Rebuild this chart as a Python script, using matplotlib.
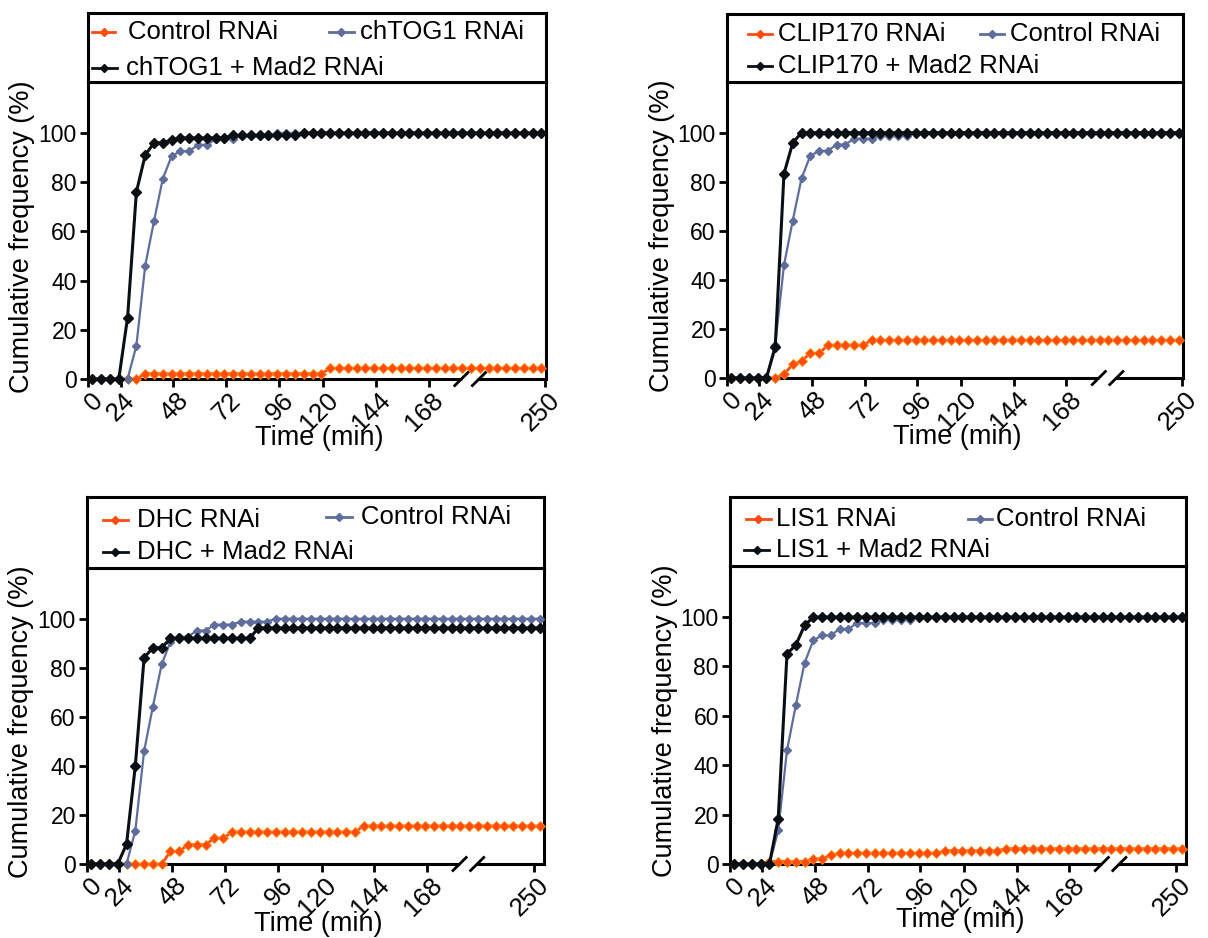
import numpy as np
import matplotlib
matplotlib.use('Agg')
import matplotlib.pyplot as plt
import matplotlib.transforms as mtransforms

plt.rcParams['font.family'] = ['Liberation Sans', 'DejaVu Sans']

# one sample every 4 min, 52 frames (category axis, like the original Excel chart)
frames = np.arange(52)

tick_labels = ['0', '24', '48', '72', '96', '120', '144', '168', '250']

# control curve is the same in all four panels (blue line)
control_curve = [0, 0, 0, 0, 0, 13.6, 46, 64.2, 81.4, 90.6, 92.6, 92.6, 95.2, 95.2, 97.6, 97.6,
                 97.6, 98.8, 98.8, 98.8, 98.8, 100, 100, 100, 100, 100, 100, 100, 100, 100, 100,
                 100, 100, 100, 100, 100, 100, 100, 100, 100, 100, 100, 100, 100, 100, 100, 100,
                 100, 100, 100, 100, 100]

# panel 1 (orange labelled "Control RNAi" in the original legend)
chtog1_orange = [0, 0, 0, 0, 0, 0, 2.2, 2.2, 2.2, 2.2, 2.2, 2.2, 2.2, 2.2, 2.2, 2.2, 2.2, 2.2,
                 2.2, 2.2, 2.2, 2.2, 2.2, 2.2, 2.2, 2.2, 2.2, 4.4, 4.4, 4.4, 4.4, 4.4, 4.4, 4.4,
                 4.4, 4.4, 4.4, 4.4, 4.4, 4.4, 4.4, 4.4, 4.4, 4.4, 4.4, 4.4, 4.4, 4.4, 4.4, 4.4,
                 4.4, 4.4]
chtog1_mad2 = [0, 0, 0, 0, 25, 76, 91, 96, 96, 97, 98, 98, 98, 98, 98, 98, 99, 99, 99, 99, 99,
               99, 99, 99, 100, 100, 100, 100, 100, 100, 100, 100, 100, 100, 100, 100, 100, 100,
               100, 100, 100, 100, 100, 100, 100, 100, 100, 100, 100, 100, 100, 100]

# panel 2
clip170_rnai = [0, 0, 0, 0, 0, 0, 1.5, 5.6, 6.8, 10.2, 10, 13.4, 13.4, 13.4, 13.4, 13.4, 15.4,
                15.4, 15.4, 15.4, 15.4, 15.4, 15.4, 15.4, 15.4, 15.4, 15.4, 15.4, 15.4, 15.4,
                15.4, 15.4, 15.4, 15.4, 15.4, 15.4, 15.4, 15.4, 15.4, 15.4, 15.4, 15.4, 15.4,
                15.4, 15.4, 15.4, 15.4, 15.4, 15.4, 15.4, 15.4, 15.4]
clip170_mad2 = [0, 0, 0, 0, 0, 12.6, 83.3, 95.9, 100, 100, 100, 100, 100, 100, 100, 100, 100,
                100, 100, 100, 100, 100, 100, 100, 100, 100, 100, 100, 100, 100, 100, 100, 100,
                100, 100, 100, 100, 100, 100, 100, 100, 100, 100, 100, 100, 100, 100, 100, 100,
                100, 100, 100]

# panel 3
dhc_rnai = [0, 0, 0, 0, 0, 0, 0, 0, 0, 5.1, 5.1, 7.9, 7.9, 7.9, 10.5, 10.5, 13.1, 13.1, 13.1,
            13.1, 13.1, 13.1, 13.1, 13.1, 13.1, 13.1, 13.1, 13.1, 13.1, 13.1, 13.1, 15.5, 15.5,
            15.5, 15.5, 15.5, 15.5, 15.5, 15.5, 15.5, 15.5, 15.5, 15.5, 15.5, 15.5, 15.5, 15.5,
            15.5, 15.5, 15.5, 15.5, 15.5]
dhc_mad2 = [0, 0, 0, 0, 8.1, 40, 84.1, 88.2, 88.2, 92, 92, 92, 92, 92, 92, 92, 92, 92, 92,
            96.2, 96.2, 96.2, 96.2, 96.2, 96.2, 96.2, 96.2, 96.2, 96.2, 96.2, 96.2, 96.2, 96.2,
            96.2, 96.2, 96.2, 96.2, 96.2, 96.2, 96.2, 96.2, 96.2, 96.2, 96.2, 96.2, 96.2, 96.2,
            96.2, 96.2, 96.2, 96.2, 96.2]

# panel 4
lis1_rnai = [0, 0, 0, 0, 1.0, 1.0, 1.0, 1.0, 1.0, 2.1, 2.1, 3.5, 4.4, 4.4, 4.4, 4.4, 4.4, 4.4,
             4.4, 4.4, 4.4, 4.4, 4.4, 4.4, 5.4, 5.4, 5.4, 5.4, 5.4, 5.4, 5.4, 6.2, 6.2, 6.2, 6.2,
             6.2, 6.2, 6.2, 6.2, 6.2, 6.2, 6.2, 6.2, 6.2, 6.2, 6.2, 6.2, 6.2, 6.2, 6.2, 6.2, 6.2]
lis1_mad2 = [0, 0, 0, 0, 0, 18.4, 85.2, 88.6, 96.6, 100, 100, 100, 100, 100, 100, 100, 100, 100,
             100, 100, 100, 100, 100, 100, 100, 100, 100, 100, 100, 100, 100, 100, 100, 100, 100,
             100, 100, 100, 100, 100, 100, 100, 100, 100, 100, 100, 100, 100, 100, 100, 100, 100]

orange = '#FF4A12'
blue = '#5E6D9C'
black = '#0A0F14'

fig = plt.figure(figsize=(12.08, 9.38), dpi=100)
label_shift = mtransforms.ScaledTranslation(11 / 100, -18 / 100, fig.dpi_scale_trans)


def drawPanel(axRect, legRect, orangeVals, blackVals, names, legPos, lastTick, xlabelY):
    ax = fig.add_axes(axRect)
    ax.plot(frames, orangeVals, color=orange, lw=2, marker='D', ms=5,
            mec='#FF8A00', mew=0.6, clip_on=False, zorder=3)
    ax.plot(frames, control_curve, color=blue, lw=1.6, marker='D', ms=4.5,
            clip_on=False, zorder=4)
    ax.plot(frames, blackVals, color=black, lw=2.2, marker='D', ms=5,
            clip_on=False, zorder=5)

    ax.set_xlim(-0.5, 51.5)
    ax.set_ylim(0, 120.7)
    ax.set_yticks([0, 20, 40, 60, 80, 100])
    tickPos = [-0.5, 3.2, 9.2, 15.2, 21.2, 26.2, 32.2, 38.2, lastTick]
    ax.set_xticks(tickPos)
    ax.set_xticklabels([])
    # rotated tick labels drawn as text so they can sit like the original ones
    labelTrans = ax.get_xaxis_transform() + label_shift
    for pos, txt in zip(tickPos, tick_labels):
        ax.text(pos, 0, txt, transform=labelTrans, rotation=45, ha='right', va='center',
                rotation_mode='anchor', fontsize=18.5, clip_on=False)
    ax.tick_params(direction='out', length=6, width=2, pad=3)
    ax.tick_params(axis='y', labelsize=16.5, pad=2)
    for sp in ax.spines.values():
        sp.set_linewidth(2.2)

    ax.set_ylabel('Cumulative frequency (%)', fontsize=19.5)
    ax.yaxis.set_label_coords(-0.115, 0.48)
    ax.set_xlabel('Time (min)', fontsize=19.5)
    ax.xaxis.set_label_coords(0.505, xlabelY)

    # axis break marks
    trans = ax.get_xaxis_transform()
    ax.plot([42.3, 43.5], [0, 0], color='white', lw=4, transform=trans, clip_on=False, zorder=6)
    for xc in (41.9, 43.9):
        ax.plot([xc - 0.75, xc + 0.75], [-0.022, 0.022], color='black', lw=2,
                transform=trans, clip_on=False, zorder=7)

    # legend box sitting on top of the axes
    lax = fig.add_axes(legRect)
    lax.set_xlim(0, 1)
    lax.set_ylim(0, 1)
    lax.set_xticks([])
    lax.set_yticks([])
    for sp in lax.spines.values():
        sp.set_linewidth(2.2)
    for (x0, x1, xt, y), color, name in zip(legPos, (orange, blue, black), names):
        lax.plot([x0, x1], [y, y], color=color, lw=2)
        lax.plot([(x0 + x1) / 2], [y], color=color, marker='D', ms=4.5)
        lax.text(xt, y, name, fontsize=18.5, ha='left', va='center')


drawPanel([0.0728, 0.5959, 0.3791, 0.3166], [0.0728, 0.9126, 0.3791, 0.0736],
          chtog1_orange, chtog1_mad2,
          ('Control RNAi', 'chTOG1 RNAi', 'chTOG1 + Mad2 RNAi'),
          [(0.009, 0.059, 0.087, 0.72), (0.526, 0.581, 0.594, 0.72), (0.009, 0.063, 0.083, 0.20)],
          51.4, -0.155)

drawPanel([0.6018, 0.5970, 0.3775, 0.3156], [0.6018, 0.9126, 0.3775, 0.0725],
          clip170_rnai, clip170_mad2,
          ('CLIP170 RNAi', 'Control RNAi', 'CLIP170 + Mad2 RNAi'),
          [(0.046, 0.099, 0.112, 0.70), (0.555, 0.607, 0.62, 0.70), (0.046, 0.099, 0.112, 0.23)],
          51.4, -0.155)

drawPanel([0.0720, 0.0789, 0.3783, 0.3156], [0.0720, 0.3945, 0.3783, 0.0757],
          dhc_rnai, dhc_mad2,
          ('DHC RNAi', 'Control RNAi', 'DHC + Mad2 RNAi'),
          [(0.035, 0.089, 0.11, 0.68), (0.524, 0.579, 0.60, 0.72), (0.035, 0.089, 0.11, 0.23)],
          50.4, -0.16)

drawPanel([0.6043, 0.0789, 0.3775, 0.3177], [0.6043, 0.3966, 0.3775, 0.0736],
          lis1_rnai, lis1_mad2,
          ('LIS1 RNAi', 'Control RNAi', 'LIS1 + Mad2 RNAi'),
          [(0.035, 0.09, 0.10, 0.68), (0.523, 0.574, 0.584, 0.68), (0.031, 0.086, 0.10, 0.23)],
          50.4, -0.145)

plt.savefig('out.png', dpi=100)
